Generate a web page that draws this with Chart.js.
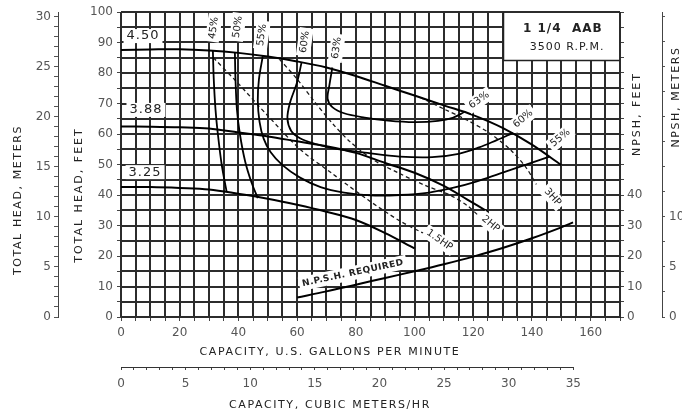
<!DOCTYPE html>
<html>
<head>
<meta charset="utf-8">
<script src="https://cdn.jsdelivr.net/npm/chart.js@4.4.0/dist/chart.umd.min.js"></script>
<style>
  html, body { margin: 0; padding: 0; background: #fff; }
  #wrap { width: 682px; height: 415px; }
</style>
</head>
<body>
<div id="wrap"><canvas id="pump" width="682" height="415"></canvas></div>
<script>
// head curves per impeller diameter, [gpm, feet]
const head450 = [[0,87.5],[10,87.7],[20,87.8],[30,87.4],[40,86.6],[50,85.4],[60,83.8],[70,81.8],[80,79],[90,75.8],[100,72.6],[110,69.4],[120,66.2],[130,62],[140,56.5],[150,49.8]];
const head388 = [[0,62.5],[10,62.4],[20,62.2],[30,61.8],[40,60.5],[50,59.2],[60,57.6],[70,56],[80,53.8],[90,50.5],[100,47.3],[110,43],[118,38.5],[125,34.5]];
const head325 = [[0,42.6],[10,42.6],[20,42.3],[30,41.8],[40,40.4],[50,38.8],[60,36.8],[70,34.5],[80,31.8],[90,27.5],[100,22.5]];

// efficiency contours
const eff45 = [[31.3,87.4],[31.6,78],[32.2,68],[33,60],[34.3,50],[36,41]];
const eff50 = [[38.8,86.8],[39,78],[39.5,68],[40.5,60],[42.3,51],[44.5,44],[46.6,39]];
const eff55 = [[48.3,85.5],[47,78],[46.6,71],[47.2,64],[48.6,58.5],[51,54],[55,49.8],[61,45.7],[68,42.6],[76,40.8],[85,39.9],[95,40],[105,40.8],[113,42.3],[121,44.4],[129,47],[137,49.6],[146,52.6]];
const eff60 = [[61.5,83.4],[60,77],[57.5,70],[56.7,65],[58,61],[61,58.6],[66,56.8],[72,55.4],[84,53.8],[95,52.6],[106,52.4],[115,53.5],[122,55.6],[128,58],[133.5,60.3]];
const eff63 = [[72,81.8],[71,76],[70.4,71.5],[72,68.8],[76,66.8],[83,65.4],[91,64.4],[100,63.9],[108,64.3],[113,65.3],[117,67.2]];

// horsepower lines
const hp15 = [[31.5,85],[40,76.5],[50,66],[61,55],[72,47],[84,38.5],[95,31.5],[105,26.5]];
const hp2 = [[54,84.5],[60,78],[66,70.5],[72,63.5],[78,57.5],[86,51.5],[95,47],[104,43],[112,40],[118,36.5],[121.5,33.5]];
const hp3 = [[102,72],[110,68.2],[118,64.5],[126,60],[133,54.5],[138,49],[141.5,43.5]];

// NPSH required, feet
const npshReq = [[60,6.4],[70,8.4],[80,10.6],[90,12.8],[100,15],[110,17.3],[120,19.8],[130,22.6],[140,25.8],[150,29.4],[154,31]];

// labels on the plot: [text, gpm, feet, rotation deg]
const diaLabels = [['4.50',7.5,92.1],['3.88',8.5,67.9],['3.25',8.2,47.5]];
const effTopLabels = [['45%',31.6,94.8],['50%',39.8,95.1],['55%',48,92.5],['60%',62.6,90.2],['63%',73.5,88.2]];
const sideLabels = [['63%',122,71.1,-35],['60%',137,65,-40],['55%',149.7,58.7,-40],
                    ['1.5HP',108.5,25.2,35],['2HP',125.9,30.5,40],['3HP',147,39.3,48]];

const GPM_TO_M3H = 0.227125;
const FT_TO_M = 0.3048;

const pts = arr => arr.map(p => ({x: p[0], y: p[1]}));
const solid = (data, w) => ({data: pts(data), borderColor: '#000', borderWidth: w, tension: 0.35, showLine: true, pointRadius: 0});
const dashed = data => ({data: pts(data), borderColor: '#1a1a1a', borderWidth: 1.3, borderDash: [4,3], tension: 0.3, showLine: true, pointRadius: 0});

const FONT = 'DejaVu Sans';

function text(ctx, s, x, y, rot, font, bg, spacing) {
    ctx.save();
    ctx.translate(x, y);
    ctx.rotate(rot * Math.PI / 180);
    ctx.font = font;
    if ('letterSpacing' in ctx) ctx.letterSpacing = spacing || '0px';
    ctx.textAlign = 'center';
    ctx.textBaseline = 'middle';
    if (bg) {
        const w = ctx.measureText(s).width;
        ctx.fillStyle = '#fff';
        ctx.fillRect(-w/2 - 3, -7, w + 6, 14);
    }
    ctx.fillStyle = '#222';
    ctx.fillText(s, 0, 0);
    ctx.restore();
}

// graph-paper grid: one strip at every 5 units of the gpm and feet scales
const paperGrid = {
    id: 'paperGrid',
    beforeDatasetsDraw(chart) {
        const {ctx, chartArea: a, scales: {x, y}} = chart;
        ctx.save();
        ctx.fillStyle = '#2c2c2c';
        for (let v = 0; v <= 170; v += 5) {
            const px = Math.round(x.getPixelForValue(v));
            ctx.fillRect(px - 1, a.top, 2, a.bottom - a.top);
        }
        for (let v = 0; v <= 100; v += 5) {
            const py = Math.round(y.getPixelForValue(v));
            ctx.fillRect(a.left, py - 1, a.right - a.left, 2);
        }
        ctx.restore();
    }
};

const annotate = {
    id: 'annotate',
    afterDraw(chart) {
        const {ctx, chartArea, scales: {x, y, x2}} = chart;
        const X = v => x.getPixelForValue(v), Y = v => y.getPixelForValue(v);

        // cubic metres axis line, 0..35
        ctx.save();
        ctx.strokeStyle = '#333';
        ctx.lineWidth = 1;
        ctx.beginPath();
        ctx.moveTo(x2.getPixelForValue(0), x2.top + 0.5);
        ctx.lineTo(x2.getPixelForValue(35), x2.top + 0.5);
        ctx.stroke();

        // model box
        const bx = Math.round(X(130)) + 0.5, by = Math.round(Y(84.3)) + 0.5;
        ctx.fillStyle = '#fff';
        ctx.fillRect(bx, chartArea.top + 1, chartArea.right - bx - 1, by - chartArea.top - 1);
        ctx.strokeStyle = '#222';
        ctx.lineWidth = 1.5;
        ctx.beginPath();
        ctx.moveTo(bx, chartArea.top);
        ctx.lineTo(bx, by);
        ctx.lineTo(chartArea.right, by);
        ctx.stroke();
        ctx.restore();
        text(ctx, '1 1/4  AAB', X(150.5), Y(94.5), 0, 'bold 12px ' + FONT, false, '1px');
        text(ctx, '3500 R.P.M.', X(152), Y(88.6), 0, '11px ' + FONT, false, '1px');

        diaLabels.forEach(l => text(ctx, l[0], X(l[1]), Y(l[2]), 0, '13px ' + FONT, true, '1px'));
        effTopLabels.forEach(l => text(ctx, l[0], X(l[1]), Y(l[2]), -82, '10px ' + FONT, true));
        sideLabels.forEach(l => text(ctx, l[0], X(l[1]), Y(l[2]), l[3], '10px ' + FONT, true));
        text(ctx, 'N.P.S.H. REQUIRED', X(79), Y(14.4), -12, 'bold 9px ' + FONT, true, '0.5px');

        // axis titles
        const tf = '11px ' + FONT;
        text(ctx, 'CAPACITY, U.S. GALLONS PER MINUTE', 330, 352, 0, tf, false, '1.6px');
        text(ctx, 'CAPACITY, CUBIC METERS/HR', 330, 405, 0, tf, false, '1.6px');
        text(ctx, 'TOTAL HEAD, METERS', 18, 200, -90, tf, false, '1.6px');
        text(ctx, 'TOTAL HEAD, FEET', 79, 195, -90, tf, false, '2px');
        text(ctx, 'NPSH, FEET', 637, 114, -90, tf, false, '2px');
        text(ctx, 'NPSH, METERS', 676, 97, -90, tf, false, '1.6px');
    }
};

const tickFont = {family: FONT, size: 12};

new Chart(document.getElementById('pump'), {
    type: 'scatter',
    data: {
        datasets: [
            solid(head450, 2), solid(head388, 2), solid(head325, 2),
            solid(eff45, 1.8), solid(eff50, 1.8), solid(eff55, 1.8), solid(eff60, 1.8), solid(eff63, 1.8),
            dashed(hp15), dashed(hp2), dashed(hp3),
            Object.assign(solid(npshReq, 2), {yAxisID: 'yN'})
        ]
    },
    options: {
        responsive: false,
        animation: false,
        devicePixelRatio: 1,
        layout: {padding: {top: 12}},
        plugins: {legend: {display: false}, tooltip: {enabled: false}},
        scales: {
            x: {
                type: 'linear', position: 'bottom', weight: 0, min: 0, max: 170,
                ticks: {stepSize: 5, autoSkip: false, maxRotation: 0, padding: 5, color: '#555', font: tickFont,
                        callback: v => (v % 20 === 0 && v <= 160 ? v : '')},
                grid: {drawOnChartArea: false, tickColor: '#444', tickLength: 4},
                border: {color: '#222'},
                afterFit: s => { s.height = 50; }
            },
            x2: {
                type: 'linear', position: 'bottom', weight: 1, min: 0, max: 170 * GPM_TO_M3H,
                ticks: {stepSize: 1, includeBounds: false, autoSkip: false, maxRotation: 0, padding: 7, color: '#555', font: tickFont,
                        callback: v => (v % 5 === 0 && v <= 35 ? v : '')},
                grid: {drawOnChartArea: false, tickLength: 3,
                       tickColor: c => (c.tick && c.tick.value <= 35 ? '#444' : 'rgba(0,0,0,0)')},
                border: {display: false},
                afterFit: s => { s.height = 48; }
            },
            y: {
                type: 'linear', position: 'left', weight: 0, min: 0, max: 100,
                ticks: {stepSize: 5, autoSkip: false, padding: 4, color: '#555', font: tickFont,
                        callback: v => (v % 10 === 0 ? v : '')},
                grid: {drawOnChartArea: false, tickColor: '#444', tickLength: 4},
                border: {color: '#222'},
                afterFit: s => { s.width = 63; }
            },
            yM: {
                type: 'linear', position: 'left', weight: 1, min: 0, max: 100 * FT_TO_M,
                ticks: {stepSize: 1, includeBounds: false, autoSkip: false, padding: 3, color: '#555', font: tickFont,
                        callback: v => (v % 5 === 0 && v <= 30 ? v : '')},
                grid: {drawOnChartArea: false, tickLength: 4,
                       tickColor: c => (c.tick && c.tick.value <= 30 ? '#555' : 'rgba(0,0,0,0)')},
                border: {color: '#444'},
                afterFit: s => { s.width = 58; }
            },
            yN: {
                type: 'linear', position: 'right', weight: 0, min: 0, max: 100,
                ticks: {stepSize: 5, autoSkip: false, padding: 3, color: '#555', font: tickFont,
                        callback: v => (v % 10 === 0 && v <= 40 ? v : '')},
                grid: {drawOnChartArea: false, tickLength: 4, tickColor: '#444'},
                border: {color: '#222'},
                afterFit: s => { s.width = 42; }
            },
            yNM: {
                type: 'linear', position: 'right', weight: 1, min: 0, max: 100 * FT_TO_M,
                ticks: {stepSize: 2.5, includeBounds: false, autoSkip: false, padding: 4, color: '#555', font: tickFont,
                        callback: v => (v % 5 === 0 && v <= 10 ? v : '')},
                grid: {drawOnChartArea: false, tickLength: 3, tickColor: '#555'},
                border: {color: '#444'},
                afterFit: s => { s.width = 20; }
            }
        }
    },
    plugins: [paperGrid, annotate]
});
</script>
</body>
</html>
